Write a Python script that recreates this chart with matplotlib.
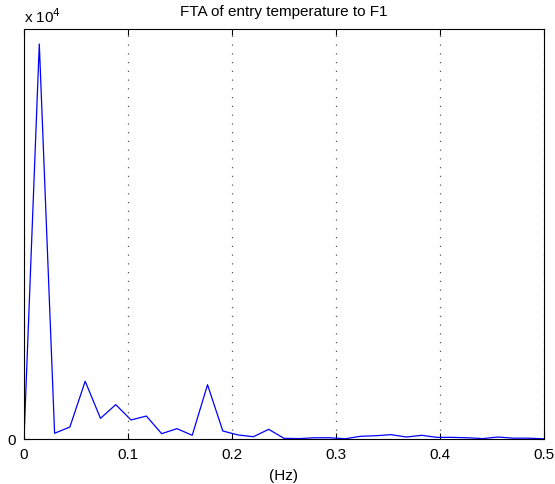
import matplotlib
matplotlib.use('Agg')
import matplotlib.pyplot as plt
import numpy as np

plt.rcParams['font.family'] = ['Liberation Sans', 'DejaVu Sans']

#%% Data (1/68 Hz bins)
freq = np.arange(35) / 68.0
amp = [0, 48170, 700, 1460, 7040, 2520, 4190, 2320, 2800, 650,
       1260, 450, 6620, 975, 490, 280, 1180, 80, 50, 150,
       150, 30, 330, 400, 530, 240, 450, 200, 200, 150,
       50, 240, 100, 100, 20]
xticks = [0, 0.1, 0.2, 0.3, 0.4, 0.5]

#%% Plot
fig = plt.figure(figsize=(5.55, 4.85), dpi=100)
ax = fig.add_axes([24/555, 45/485, 520/555, 410/485])
ax.plot(freq, amp, color='blue', linewidth=0.9)

ax.set_xlim(0, 0.5)
ax.set_ylim(0, 50000)
ax.set_xticks(xticks)
ax.set_xticklabels(['0', '0.1', '0.2', '0.3', '0.4', '0.5'])
ax.set_yticks([0])
ax.set_yticklabels(['0'])
ax.tick_params(direction='in', length=4, labelsize=11, top=True, right=True, pad=6)
ax.xaxis.grid(True, linestyle=(0, (1, 6)), color='#555555', linewidth=0.9)
for s in ax.spines.values():
    s.set_linewidth(0.8)

ax.set_title('FTA of entry temperature to F1', fontsize=11, pad=10)
ax.set_xlabel('(Hz)', fontsize=11, labelpad=5)
fig.text(24/555, 1 - 17/485, r'x 10$^{4}$', fontsize=11, va='center', ha='left')

plt.savefig('out.png', dpi=100)
